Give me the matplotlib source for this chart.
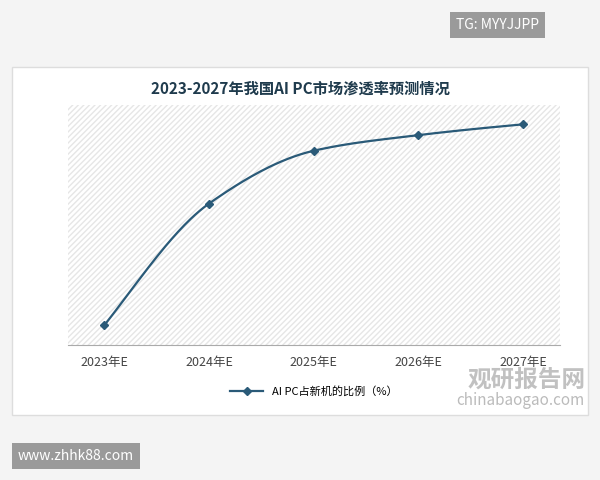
import numpy as np
import matplotlib.pyplot as plt
from matplotlib.patches import Rectangle
from matplotlib.lines import Line2D

plt.rcParams['font.family'] = ['Noto Sans CJK SC', 'DejaVu Sans']
plt.rcParams['hatch.color'] = '#e6e6e6'

years = ['2023年E', '2024年E', '2025年E', '2026年E', '2027年E']
share = [8.3, 59.0, 81.0, 87.5, 92.0]
title = '2023-2027年我国AI PC市场渗透率预测情况'
legend_label = 'AI PC占新机的比例（%）'
line_color = '#2a5a78'


def pchip(x, y, xs):
    # monotone cubic, for the smooth look of the original line
    x = np.asarray(x, float); y = np.asarray(y, float)
    h = np.diff(x); d = np.diff(y) / h
    m = np.zeros_like(y)
    for k in range(1, len(y) - 1):
        if d[k - 1] * d[k] > 0:
            w1 = 2 * h[k] + h[k - 1]; w2 = h[k] + 2 * h[k - 1]
            m[k] = (w1 + w2) / (w1 / d[k - 1] + w2 / d[k])
    m[0] = d[0] * 1.1; m[-1] = d[-1] * 0.9
    out = []
    for v in xs:
        k = min(np.searchsorted(x, v, side='right') - 1, len(x) - 2)
        t = (v - x[k]) / h[k]
        h00 = 2*t**3 - 3*t**2 + 1; h10 = t**3 - 2*t**2 + t
        h01 = -2*t**3 + 3*t**2; h11 = t**3 - t**2
        out.append(h00*y[k] + h10*h[k]*m[k] + h01*y[k+1] + h11*h[k]*m[k+1])
    return np.array(out)


fig = plt.figure(figsize=(6, 4.8), dpi=100)
fig.patch.set_facecolor('white')
fig.add_artist(Rectangle((0.0, 0.0), 1, 1, transform=fig.transFigure,
                         facecolor='#f4f4f4', edgecolor='none', zorder=-3))
fig.add_artist(Rectangle((0.02, 0.135), 0.96, 0.725, transform=fig.transFigure,
                         facecolor='white', edgecolor='#dddddd', zorder=-2))

ax = fig.add_axes([0.113, 0.281, 0.82, 0.5])
ax.set_facecolor('white')
ax.add_patch(Rectangle((0, 0), 1, 1, transform=ax.transAxes, facecolor='white',
                       edgecolor='#e6e6e6', hatch='//////', lw=0, zorder=0))

xi = np.arange(len(years))
xs = np.linspace(0, len(years) - 1, 200)
ax.plot(xs, pchip(xi, share, xs), color=line_color, lw=1.6, zorder=3)
ax.plot(xi, share, 'D', color=line_color, ms=4.5, zorder=4)

ax.set_xlim(-0.35, 4.35)
ax.set_ylim(0, 100)
ax.set_xticks(xi)
ax.set_xticklabels(years, fontsize=9, color='#444444')
ax.set_yticks([])
for s in ['top', 'right', 'left']:
    ax.spines[s].set_visible(False)
ax.spines['bottom'].set_color('#aaaaaa')
ax.tick_params(axis='x', length=0, pad=8)

fig.text(0.5, 0.815, title, ha='center', va='center', fontsize=11,
         fontweight='bold', color='#1f3b4d')
handle = Line2D([], [], color=line_color, lw=1.6, marker='D', ms=4)
ax.legend([handle], [legend_label], loc='upper center', bbox_to_anchor=(0.5, -0.13),
          frameon=False, fontsize=8, handlelength=3)

# watermarks
fig.text(0.76, 0.948, 'TG: MYYJJPP', fontsize=10, color='white', va='center',
         bbox=dict(facecolor='#9a9a9a', edgecolor='none', pad=4))
fig.text(0.03, 0.05, 'www.zhhk88.com', fontsize=10, color='white', va='center',
         bbox=dict(facecolor='#9a9a9a', edgecolor='none', pad=4))
fig.text(0.78, 0.21, '观研报告网', fontsize=17, color='#bbbbbb', va='center',
         fontweight='bold', alpha=0.9)
fig.text(0.76, 0.165, 'chinabaogao.com', fontsize=11, color='#bbbbbb', va='center')

fig.savefig('out.png', dpi=100)
